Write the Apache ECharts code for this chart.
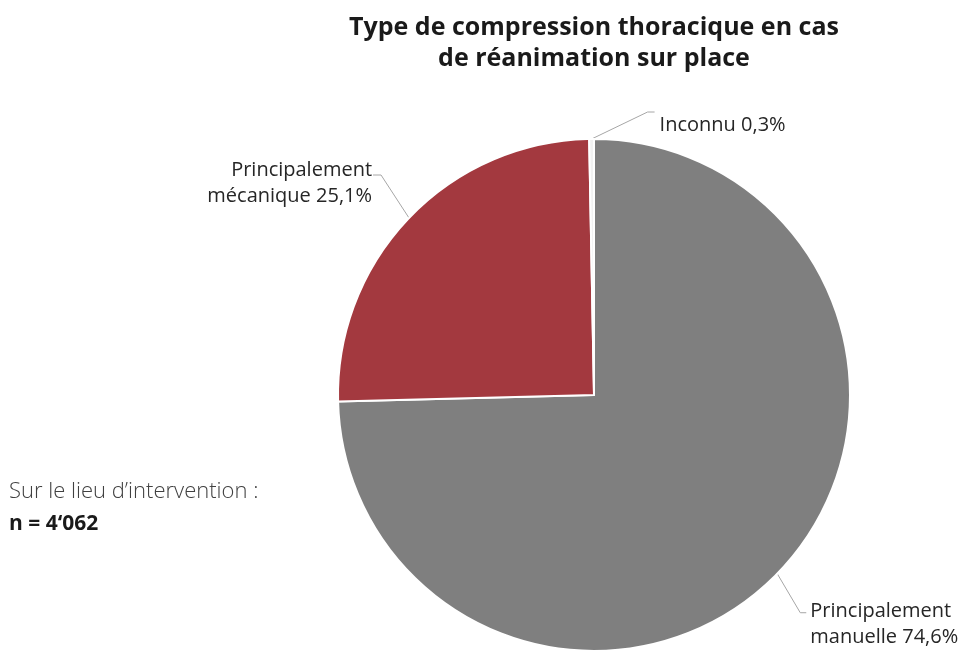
<!DOCTYPE html>
<html>
<head>
<meta charset="utf-8">
<script src="https://cdn.jsdelivr.net/npm/echarts@6/dist/echarts.min.js"></script>
<style>
  html, body { margin: 0; padding: 0; background: #fff; }
  #chart { width: 961px; height: 651px; }
</style>
</head>
<body>
<div id="chart"></div>
<script>
  // données
  var categories = ['Principalement\nmanuelle', 'Principalement\nmécanique', 'Inconnu'];
  var percents = [74.6, 25.1, 0.3];
  var sliceColors = ['#7f7f7f', '#a3393f', '#f2f2f2'];
  var titleText = 'Type de compression thoracique en cas\nde réanimation sur place';
  var noteLines = ['Sur le lieu d\u2019intervention :', 'n = 4\u2018062'];

  var chart = echarts.init(document.getElementById('chart'));

  var pieData = categories.map(function (name, i) {
    return { name: name, value: percents[i], itemStyle: { color: sliceColors[i] } };
  });

  function fmt(v) {
    return v.toFixed(1).replace('.', ',') + '%';
  }

  chart.setOption({
    animation: false,
    textStyle: { fontFamily: 'Open Sans' },
    title: [{
      text: titleText,
      left: 594,
      top: 12,
      padding: 0,
      textAlign: 'center',
      textStyle: { fontFamily: 'Open Sans', fontSize: 25, fontWeight: 'bold', color: '#1a1a1a', lineHeight: 31 }
    }, {
      text: noteLines[0],
      left: 9,
      top: 481,
      padding: 0,
      textStyle: { fontFamily: 'Open Sans', fontSize: 22, fontWeight: 300, color: '#404040' }
    }, {
      text: noteLines[1],
      left: 9,
      top: 514,
      padding: 0,
      textStyle: { fontFamily: 'Open Sans', fontSize: 21, fontWeight: 'bold', color: '#1a1a1a' }
    }],
    series: [{
      type: 'pie',
      center: [594, 395],
      radius: 256,
      startAngle: 90,
      clockwise: true,
      data: pieData,
      itemStyle: { borderColor: '#fff', borderWidth: 2 },
      label: {
        show: true,
        fontFamily: 'Open Sans',
        fontSize: 20,
        color: '#262626',
        lineHeight: 26,
        overflow: 'none',
        formatter: function (p) {
          var parts = p.name.split('\n');
          if (parts.length > 1) return parts[0] + '\n' + parts[1] + ' ' + fmt(p.value);
          return p.name + ' ' + fmt(p.value);
        }
      },
      labelLine: {
        show: true,
        length: 45,
        length2: 8,
        lineStyle: { color: '#a6a6a6', width: 1 }
      },
      labelLayout: function (params) {
        var p = params.labelLinePoints;
        if (!p) return {};
        var e = p[0];
        if (params.dataIndex === 0) {
          return {
            x: e[0] + 33, y: e[1] + 51, align: 'left', verticalAlign: 'middle',
            labelLinePoints: [e, [e[0] + 23, e[1] + 39], [e[0] + 29, e[1] + 39]]
          };
        }
        if (params.dataIndex === 1) {
          return {
            x: e[0] - 37, y: e[1] - 35, align: 'right', verticalAlign: 'middle',
            labelLinePoints: [e, [e[0] - 28, e[1] - 43], [e[0] - 36, e[1] - 43]]
          };
        }
        return {
          x: e[0] + 68, y: e[1] - 14, align: 'left', verticalAlign: 'middle',
          labelLinePoints: [e, [e[0] + 56, e[1] - 27], [e[0] + 63, e[1] - 27]]
        };
      }
    }]
  });
</script>
</body>
</html>
